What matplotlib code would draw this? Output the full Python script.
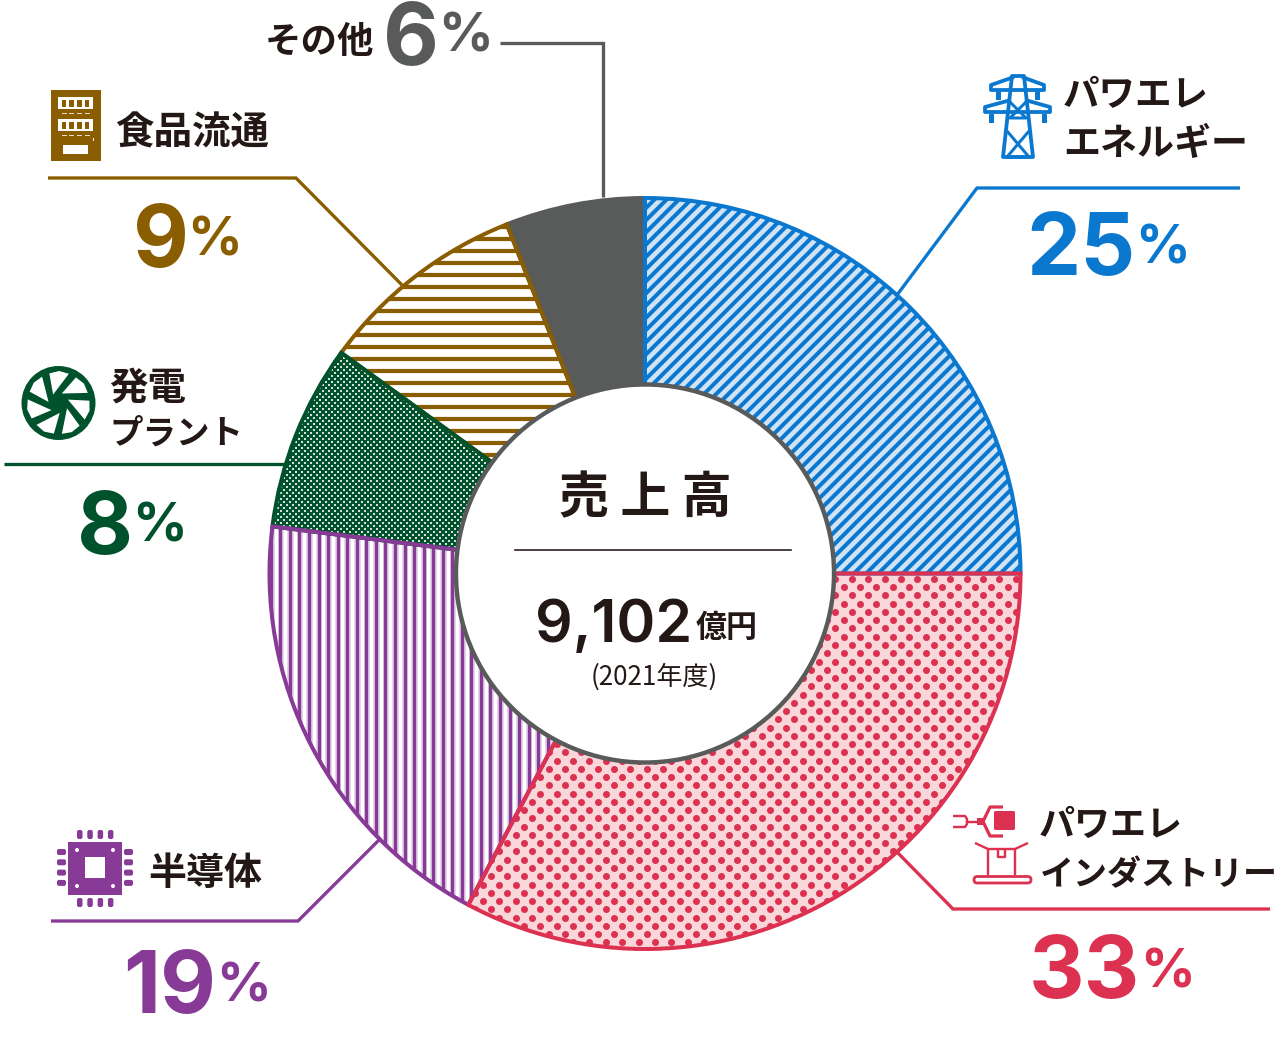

# -*- coding: utf-8 -*-
"""売上高 donut chart, drawn on a pixel sized canvas."""
import numpy as np
import matplotlib
matplotlib.use('Agg')
import matplotlib.pyplot as plt
from matplotlib.patches import Circle, Polygon, Rectangle, FancyBboxPatch

#%% Data
segments = ['パワエレ エネルギー', 'パワエレ インダストリー', '半導体', '発電 プラント', '食品流通', 'その他']
shares = [25, 32.8, 19.2, 8, 9, 6]  # as measured off the ring
pct_labels = ['25', '33', '19', '8', '9', '6']

#%% Colours
BLUE = '#0b78d0'
PINK = '#dc3150'
PURPLE = '#873a96'
GREEN = '#00522d'
BROWN = '#8a5d00'
GREY = '#595a5a'
INK = '#231815'
face_colors = ['#cfe3f5', '#f8d6da', '#e6d8ec', GREEN, '#ffffff', GREY]
edge_colors = [BLUE, PINK, PURPLE, GREEN, BROWN, GREY]
edge_order = [4.3, 4.5, 4.4, 4.2, 4.1, 4.0]

#%% Canvas: one data unit is one pixel
W, H, DPI = 1280, 1040, 120
PT = 72 / DPI  # points per pixel
JP = ['Noto Sans CJK JP', 'DejaVu Sans']
NUM = ['Inter', 'DejaVu Sans']


def Y(y):
    return H - y


fig = plt.figure(figsize=(W / DPI, H / DPI), dpi=DPI)
ax = fig.add_axes([0, 0, 1, 1])

CX, CY, R, R_IN = 645, 573.5, 375.5, 189

wedges, _ = ax.pie(shares, startangle=90, counterclock=False, center=(CX, Y(CY)), radius=R,
                   colors=face_colors, wedgeprops=dict(linewidth=0))

#%% Fill patterns, each clipped to its own wedge
# blue diagonals
for c in np.arange(-1400, 1400, 12.2):
    line, = ax.plot([0, W], [c, c + W], color=BLUE, lw=4 * PT, zorder=2, solid_capstyle='butt')
    line.set_clip_path(wedges[0])

# pink staggered dots
gx, gy = [], []
for i, yy in enumerate(np.arange(645 - 8.26 * 60, 645 + 8.26 * 60, 8.26)):
    xx = np.arange(884.7 - 16.4 * 30, 1040, 16.4) + (8.2 if i % 2 else 0)
    gx.extend(xx)
    gy.extend([Y(yy)] * len(xx))
dots = ax.scatter(gx, gy, s=(7.0 * PT) ** 2, color=PINK, linewidths=0, zorder=2)
dots.set_clip_path(wedges[1])

# purple vertical bars with white gaps
for xx in np.arange(442.7 - 9.55 * 20, 600, 9.55):
    gap = ax.axvline(xx + 4.8, color='white', lw=3 * PT, zorder=2)
    gap.set_clip_path(wedges[2])
    bar = ax.axvline(xx, color=PURPLE, lw=3.4 * PT, zorder=3)
    bar.set_clip_path(wedges[2])

# green fine check, pale squares on the dark face
gx, gy = [], []
for i, yy in enumerate(np.arange(340, 560, 3.0)):
    xx = np.arange(260, 500, 6.0) + (3.0 if i % 2 else 0)
    gx.extend(xx)
    gy.extend([Y(yy)] * len(xx))
check = ax.scatter(gx, gy, s=(3.0 * PT) ** 2, color='#d5e0da', marker='s', linewidths=0, zorder=2)
check.set_clip_path(wedges[3])

# brown horizontal bars
for yy in np.arange(334.7 - 12 * 12, 500, 12.0):
    bar = ax.axhline(Y(yy), color=BROWN, lw=4.2 * PT, zorder=2)
    bar.set_clip_path(wedges[4])

#%% Wedge outlines and centre disc
outlines, _ = ax.pie(shares, startangle=90, counterclock=False, center=(CX, Y(CY)), radius=R,
                     colors=['none'] * 6, wedgeprops=dict(linewidth=4.0 * PT), frame=True)
for patch, col, z in zip(outlines, edge_colors, edge_order):
    patch.set_edgecolor(col)
    patch.set_zorder(z)
    patch.set_joinstyle('miter')
ax.set_xlim(0, W)
ax.set_ylim(0, H)
ax.set_aspect('equal')
ax.axis('off')
ax.add_patch(Circle((CX, Y(CY)), R_IN, facecolor='white', edgecolor=GREY, lw=4.4 * PT, zorder=5))

#%% Leader lines
leaders = [
    ([500, 603, 603], [43, 43, 197], GREY),
    ([1240, 977, 897], [188, 188, 295], BLUE),
    ([1270, 953, 897], [909, 909, 852], PINK),
    ([51, 298, 381], [921, 921, 838], PURPLE),
    ([4, 285], [464, 464], GREEN),
    ([48, 296, 402], [178, 178, 285], BROWN),
]
for xs, ys, col in leaders:
    ax.plot(xs, [Y(v) for v in ys], color=col, lw=3.3 * PT, zorder=3, solid_joinstyle='miter',
            solid_capstyle='butt')


#%% Text
def label(x, y, s, px=35, ha='left', weight='bold', color=INK, family=JP):
    ax.text(x, Y(y), s, fontsize=px * PT, ha=ha, va='center', color=color, family=family,
            weight=weight, zorder=6)


def percent(x, base, num, col, x_sign, base_sign, px=86, px_sign=54):
    ax.text(x, Y(base), num, fontsize=px * PT, ha='right', va='baseline', color=col, family=NUM,
            weight='bold', zorder=6)
    ax.text(x_sign - 5.5, Y(base_sign), '%', fontsize=px_sign * PT, ha='left', va='baseline', color=col,
            family=NUM, weight='bold', zorder=6)


label(1063, 96, 'パワエレ', 36.5)
label(1063, 145, 'エネルギー', 37)
label(1039, 825, 'パワエレ', 36)
label(1040, 875, 'インダストリー', 34)
label(115, 133, '食品流通', 38.5)
label(109, 388, '発電', 38.5)
label(109, 434, 'プラント', 33.5)
label(148, 874, '半導体', 38)
label(265, 43, 'その他', 36.5)

percent(1136, 275, pct_labels[0], BLUE, 1141, 263)
percent(1140, 998, pct_labels[1], PINK, 1146, 988)
percent(216, 1013, pct_labels[2], PURPLE, 222, 1001)
percent(133, 554, pct_labels[3], GREEN, 138, 542)
percent(189, 267, pct_labels[4], BROWN, 193, 255)
percent(439, 65, pct_labels[5], GREY, 444, 52)

label(645, 499, '売 上 高', 50, ha='center')
ax.plot([515, 791], [Y(550), Y(550)], color=INK, lw=1.6 * PT, zorder=6)
ax.text(692, Y(642), '9,102', fontsize=59 * PT, ha='right', va='baseline', color=INK, family=NUM,
        weight='semibold', zorder=6)
label(696, 628, '億円', 31)
label(654, 677, '(2021年度)', 26, ha='center', weight='regular')


#%% Icons
def poly(pts, col, lw=0, fill=True, closed=None, z=6):
    pts = [(px, Y(py)) for px, py in pts]
    closed = fill if closed is None else closed
    ax.add_patch(Polygon(pts, closed=closed, fill=fill, facecolor=col if fill else 'none',
                         edgecolor=col, lw=lw * PT, zorder=z, joinstyle='round'))


def rect(x, y, w, h, col, z=6):
    ax.add_patch(Rectangle((x, Y(y + h)), w, h, facecolor=col, edgecolor='none', zorder=z))


def pill(x, y, w, h, col, z=6):
    ax.add_patch(FancyBboxPatch((x, Y(y + h)), w, h, boxstyle='round,pad=0,rounding_size=2', facecolor=col,
                                edgecolor='none', zorder=z))


# vending machine
rect(51, 90, 50, 71, BROWN)
for top in (97, 119):
    rect(58, top, 35, 12, 'white', z=7)
    for k in range(4):
        rect(61.5 + k * 7.8, top + 2.5, 4.5, 7, BROWN, z=8)
    for k in range(4):
        rect(61.5 + k * 7.8, top + 15.5, 5, 1, '#e8dcc4', z=8)
rect(63, 145, 25, 8.5, 'white', z=7)
rect(92.5, 138, 1.5, 3, 'white', z=7)

# fan
fan_c = (58.5, Y(403))
ax.add_patch(Circle(fan_c, 37, facecolor=GREEN, edgecolor='none', zorder=6))
for k in range(7):
    a = np.deg2rad(k * 360 / 7 + 46)
    ang = [a - 0.25, a + 0.02, a + 0.34, a + 0.66]
    rad = [10, 31, 32, 31]
    pts = [(58.5 + r * np.cos(t), 403 + r * np.sin(t)) for r, t in zip(rad, ang)]
    poly(pts, 'white', z=7)
ax.add_patch(Circle(fan_c, 5.5, facecolor=GREEN, edgecolor='none', zorder=8))

# pylon
poly([(1003, 157), (1012, 76), (1024, 76), (1033, 157)], BLUE, lw=3.8, fill=False, closed=True)
poly([(1007, 131), (1029, 157), (1007, 157), (1029, 131)], BLUE, lw=3, fill=False)
poly([(1010, 102), (1026, 118), (1010, 118), (1026, 102)], BLUE, lw=3, fill=False)
poly([(1014, 77), (991, 85), (991, 90), (1044, 90), (1044, 85), (1022, 77)], BLUE, lw=3.8, fill=False)
poly([(1011, 100), (985, 107), (985, 112), (1050, 112), (1050, 107), (1025, 100)], BLUE, lw=3.8, fill=False)
for px_, py_ in ((998, 91), (1037, 91), (991, 114), (1044, 114)):
    rect(px_ - 2.5, py_, 5, 9, BLUE)

# robot arm and parcel
poly([(953, 816), (965, 816), (967, 819), (967, 824), (965, 827), (953, 827)], PINK, lw=2.4, fill=False)
ax.plot([967, 978], [Y(821.5), Y(821.5)], color=PINK, lw=2.4 * PT, zorder=6)
rect(977, 818, 6, 7, PINK)
poly([(1003, 807), (990, 807), (983, 821.5), (990, 836), (1003, 836)], PINK, lw=3.2, fill=False)
ax.add_patch(FancyBboxPatch((994, Y(830)), 21, 19, boxstyle='round,pad=0,rounding_size=1.5', facecolor=PINK,
                            edgecolor='none', zorder=6))
poly([(975, 843), (988, 849), (1015, 849), (1028, 843)], PINK, lw=2.4, fill=False)
poly([(988, 849), (988, 875)], PINK, lw=2.4, fill=False)
poly([(1015, 849), (1015, 875)], PINK, lw=2.4, fill=False)
poly([(998, 849), (998, 857), (1005, 857), (1005, 849)], PINK, lw=2.4, fill=False)
ax.add_patch(FancyBboxPatch((974, Y(883)), 57, 6.5, boxstyle='round,pad=0,rounding_size=3.2', facecolor='white',
                            edgecolor=PINK, lw=2.8 * PT, zorder=6))

# chip
rect(68, 842, 54, 53, PURPLE)
rect(85, 857, 20, 21, 'white', z=7)
for k in range(4):
    step = 10.3 * k
    pill(77 + step, 830, 5.5, 9, PURPLE)
    pill(77 + step, 898, 5.5, 9, PURPLE)
    pill(57, 849 + step, 9, 6, PURPLE)
    pill(124, 849 + step, 9, 6, PURPLE)
for hx, hy in ((77, 850), (113, 850), (77, 886), (113, 886)):
    ax.add_patch(Circle((hx, Y(hy)), 2, facecolor='white', edgecolor='none', zorder=7))

fig.savefig('out.png', dpi=DPI)
